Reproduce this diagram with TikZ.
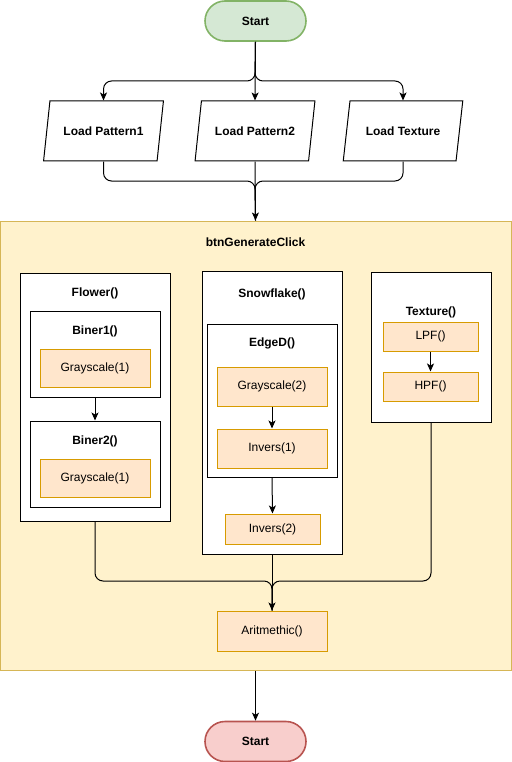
\documentclass[tikz,border=0pt]{standalone}
\usepackage{fontspec}
\setmainfont{Liberation Sans}
\usepackage{xcolor}
\usepackage{tikz}
\usetikzlibrary{arrows.meta,shapes.geometric}

\definecolor{startfill}{HTML}{D5E8D4}
\definecolor{startline}{HTML}{82B366}
\definecolor{stopfill}{HTML}{F8CECC}
\definecolor{stopline}{HTML}{B85450}
\definecolor{panelfill}{HTML}{FFF2CC}
\definecolor{panelline}{HTML}{D6B656}
\definecolor{procfill}{HTML}{FFE6CC}
\definecolor{procline}{HTML}{D79B00}

\begin{document}
\begin{tikzpicture}[x=1pt, y=-1pt, line width=1pt, font=\fontsize{12}{14}\selectfont,
    terminal/.style={draw, rounded corners=20pt, line width=1.6pt, minimum width=101, minimum height=40, font=\fontsize{12}{14}\selectfont\bfseries},
    io/.style={draw, trapezium, trapezium left angle=71.6, trapezium right angle=108.4, trapezium stretches=true, minimum width=120, minimum height=60, font=\fontsize{12}{14}\selectfont\bfseries},
    frame/.style={draw, fill=white},
    proc/.style={draw=procline, fill=procfill},
    heading/.style={font=\fontsize{12}{14}\selectfont\bfseries},
    flow/.style={-{Stealth[length=8pt,width=7pt,inset=2pt]}},
    merge/.style={rounded corners=8pt}]
    \useasboundingbox (0,0) rectangle (511,762);

    \node[terminal, fill=startfill, draw=startline] (start) at (255.5,21) {Start};
    \node[io] (pat1) at (103.5,131) {Load Pattern1};
    \node[io] (pat2) at (255,131) {Load Pattern2};
    \node[io] (tex) at (403,131) {Load Texture};

    % main function panel
    \node[draw=panelline, fill=panelfill, minimum width=511, minimum height=449] (gen) at (255.5,445.5) {};
    \node[heading] (genT) at (255.5,242) {btnGenerateClick};

    % Flower()
    \node[frame, minimum width=150, minimum height=248] (flower) at (95,397) {};
    \node[heading] (flowerT) at (95,293) {Flower()};
    \node[frame, minimum width=130, minimum height=86] (biner1) at (95,354) {};
    \node[heading] (biner1T) at (95,331) {Biner1()};
    \node[proc, minimum width=110, minimum height=38] (gray1a) at (95,368) {Grayscale(1)};
    \node[frame, minimum width=130, minimum height=86] (biner2) at (95,464) {};
    \node[heading] (biner2T) at (95,441) {Biner2()};
    \node[proc, minimum width=110, minimum height=38] (gray1b) at (95,478) {Grayscale(1)};

    % Snowflake()
    \node[frame, minimum width=140, minimum height=283] (snow) at (272,412.5) {};
    \node[heading] (snowT) at (272,294) {Snowflake()};
    \node[frame, minimum width=130, minimum height=153] (edge) at (272,400.5) {};
    \node[heading] (edgeT) at (272,343) {EdgeD()};
    \node[proc, minimum width=110, minimum height=39] (gray2) at (272,386.5) {Grayscale(2)};
    \node[proc, minimum width=110, minimum height=39] (inv1) at (272,448.5) {Invers(1)};
    \node[proc, minimum width=95, minimum height=30] (inv2) at (272.5,529) {Invers(2)};

    % Texture()
    \node[frame, minimum width=120, minimum height=150] (texture) at (431,347) {};
    \node[heading] (textureT) at (431,312) {Texture()};
    \node[proc, minimum width=95, minimum height=29] (lpf) at (430.5,336.5) {LPF()};
    \node[proc, minimum width=95, minimum height=29] (hpf) at (430.5,386.5) {HPF()};

    \node[proc, minimum width=110, minimum height=40] (arit) at (272,631) {Aritmethic()};
    \node[terminal, fill=stopfill, draw=stopline] (stop) at (255.5,741.5) {Start};

    \coordinate (split) at (255,81);
    \coordinate (join1) at (255,181);
    \coordinate (join2) at (272,581);

    % connectors
    \draw[flow] (start.south) -- (pat2.north);
    \draw[flow, merge] (start.south) -- (split) -| (pat1.north);
    \draw[flow, merge] (start.south) -- (split) -| (tex.north);
    \draw[flow] (pat2.south) -- (gen.north);
    \draw[merge] (pat1.south) |- (join1) -- (gen.north);
    \draw[merge] (tex.south) |- (join1) -- (gen.north);
    \draw[flow] (biner1.south) -- (biner2.north);
    \draw[flow] (gray2.south) -- (inv1.north);
    \draw[flow] (edge.south) -- (inv2.north);
    \draw[flow] (lpf.south) -- (hpf.north);
    \draw[flow] (snow.south) -- (arit.north);
    \draw[merge] (flower.south) |- (join2) -- (arit.north);
    \draw[merge] (texture.south) |- (join2) -- (arit.north);
    \draw[flow] (gen.south) -- (stop.north);
\end{tikzpicture}
\end{document}
